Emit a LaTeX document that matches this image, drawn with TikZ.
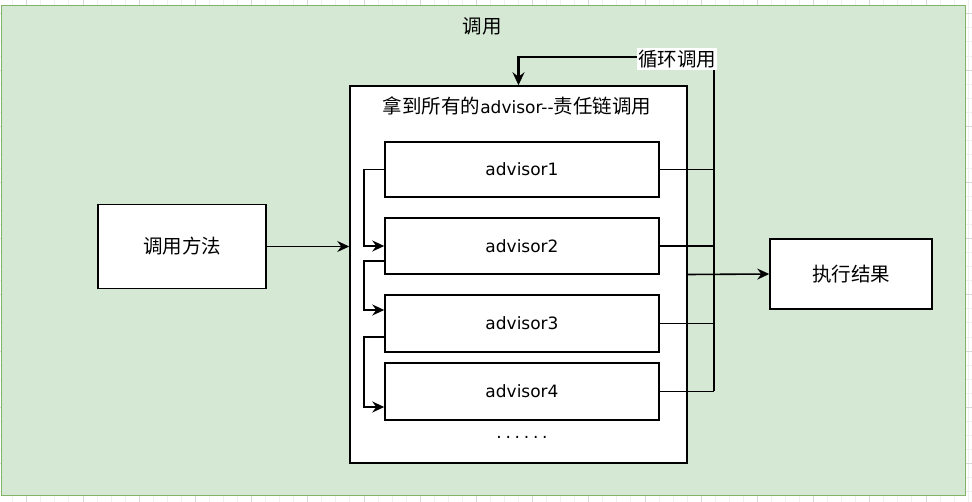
\documentclass[tikz,border=0pt]{standalone}
\usepackage{fontspec}
\setmainfont{DejaVu Sans}
\newfontfamily\cjk{Noto Sans CJK SC}
\newfontfamily\dotfont[LetterSpace=22]{DejaVu Sans}
\usetikzlibrary{arrows.meta}
\definecolor{grpfill}{HTML}{D5E8D4}
\definecolor{grpline}{HTML}{82B366}
\definecolor{gridlight}{HTML}{F0F0F0}
\definecolor{griddark}{HTML}{D9D9D9}
\tikzset{
  boxnode/.style={draw=black, fill=white, line width=1.5pt, inner sep=0pt, anchor=center},
  cjktext/.style={font=\cjk\fontsize{19.5}{23}\selectfont, inner sep=0pt},
  lattext/.style={font=\fontsize{17}{20}\selectfont, inner sep=0pt},
  conn/.style={draw=black, line width=1.6pt},
  arr/.style={conn, -{Stealth[length=12pt,width=11pt,inset=4pt]}},
  loopline/.style={draw=black, line width=2.4pt}
}
\begin{document}
\begin{tikzpicture}[x=1pt,y=-1pt]
\useasboundingbox (0,0) rectangle (972,502);
% canvas grid
\foreach \i in {-1,...,70} {
  \draw[gridlight, line width=0.8pt] ({26.7+14.05*\i},0) -- ({26.7+14.05*\i},502);
  \draw[gridlight, line width=0.8pt] (0,{13.8+14.05*\i}) -- (972,{13.8+14.05*\i});
}
\foreach \i in {0,...,17} {
  \draw[griddark, line width=0.8pt] ({26.7+56.2*\i},0) -- ({26.7+56.2*\i},502);
  \draw[griddark, line width=0.8pt] (0,{13.8+56.2*\i}) -- (972,{13.8+56.2*\i});
}
% outer group
\node[draw=grpline, fill=grpfill, line width=1.8pt, minimum width=964pt, minimum height=490pt, inner sep=0pt] (grp) at (483.5,250.5) {};
\node[cjktext] (grptitle) at (482,26) {调用};

% container
\node[boxnode, minimum width=337pt, minimum height=377pt] (cont) at (518.5,274.5) {};
\node[lattext] (conttitle) at (517,106) {{\cjk\fontsize{19.5}{23}\selectfont 拿到所有的}advisor-{}-{\cjk\fontsize{19.5}{23}\selectfont 责任链调用}};

% advisors
\node[boxnode, minimum width=274pt, minimum height=55pt] (a1) at (522,169.5) {};
\node[boxnode, minimum width=274pt, minimum height=56pt] (a2) at (522,246) {};
\node[boxnode, minimum width=274pt, minimum height=57pt] (a3) at (522,323.5) {};
\node[boxnode, minimum width=274pt, minimum height=57pt] (a4) at (522,391.5) {};
\node[lattext] (t1) at (a1) {advisor1};
\node[lattext] (t2) at (a2) {advisor2};
\node[lattext] (t3) at (a3) {advisor3};
\node[lattext] (t4) at (a4) {advisor4};
\node[lattext, font=\dotfont\fontsize{17}{20}\selectfont] (more) at (522,437) {......};

% side boxes
\node[boxnode, minimum width=168pt, minimum height=84pt] (call) at (182,246.5) {};
\node[cjktext] (calltxt) at (call) {调用方法};
\node[boxnode, minimum width=162pt, minimum height=70pt] (res) at (851,274) {};
\node[cjktext] (restxt) at (res) {执行结果};

% helper coordinates
\coordinate (chainx) at (364,0);
\coordinate (busx) at (714,0);
\coordinate (loopy) at (0,57);

% call -> container
\draw[arr] (call.east) -- (call.east -| cont.west);

% chain on the left
\draw[arr] (a1.west) -- (a1.west -| chainx) |- (a2.west);
\draw[arr] ([yshift=-15pt]a2.west) -- ([yshift=-15pt]a2.west -| chainx) |- ([yshift=13.5pt]a3.west);
\draw[arr] ([yshift=-13.5pt]a3.west) -- ([yshift=-13.5pt]a3.west -| chainx) |- ([yshift=-15.5pt]a4.west);

% bus on the right
\draw[conn] (a1.east) -- (a1.east -| busx);
\draw[conn] (a2.east) -- (a2.east -| busx);
\draw[conn] (a3.east) -- (a3.east -| busx);
\draw[conn] (a4.east) -- (a4.east -| busx);
\draw[loopline, -{Stealth[length=13pt,width=12pt,inset=4.5pt]}] (a4.east -| busx) -- (busx |- loopy) -- (cont.north |- loopy) -- (cont.north);
\node[cjktext, fill=white, inner xsep=1pt, inner ysep=2pt] (looplbl) at (677,59) {循环调用};

% container -> result
\draw[arr] (cont.east) -- (res.west);
\end{tikzpicture}
\end{document}
